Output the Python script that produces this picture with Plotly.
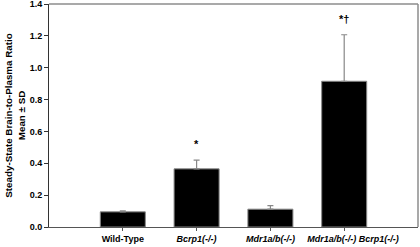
import plotly.graph_objects as go

categories = ["Wild-Type", "Bcrp1(-/-)", "Mdr1a/b(-/-)", "Mdr1a/b(-/-) Bcrp1(-/-)"]
tick_labels = ["<b>Wild-Type</b>", "<b><i>Bcrp1(-/-)</i></b>", "<b><i>Mdr1a/b(-/-)</i></b>",
               "<b>" + "\u00a0" * 7 + "<i>Mdr1a/b(-/-) Bcrp1(-/-)</i></b>"]
means = [0.095, 0.365, 0.112, 0.915]
sds = [0.007, 0.055, 0.022, 0.292]
sig_marks = ["", "*", "", "*†"]
y_ticks = [0, 0.2, 0.4, 0.6, 0.8, 1.0, 1.2, 1.4]

xpos = list(range(len(categories)))

fig = go.Figure()
fig.add_trace(go.Bar(
    x=xpos, y=means, width=0.61,
    marker=dict(color="black", line=dict(color="#888888", width=1)),
    error_y=dict(type="data", array=sds, symmetric=False, arrayminus=[0]*4,
                 color="#888888", thickness=1.2, width=3),
    showlegend=False,
))

for x, m, s, t in zip(xpos, means, sds, sig_marks):
    if t:
        fig.add_annotation(x=x, y=m + s + 0.1, text="<b>" + t + "</b>", showarrow=False,
                           font=dict(size=11, color="black", family="Liberation Sans, Arial"))

# gray top/right frame
fig.add_shape(type="line", xref="paper", yref="paper", x0=0, x1=1, y0=1, y1=1,
              line=dict(color="#8c8c8c", width=1.5))
fig.add_shape(type="line", xref="paper", yref="paper", x0=1, x1=1, y0=0, y1=1,
              line=dict(color="#8c8c8c", width=1.5))

fig.update_layout(
    width=420, height=247,
    margin=dict(l=49, r=2, t=4, b=20),
    plot_bgcolor="white", paper_bgcolor="white",
    font=dict(family="Liberation Sans, Arial", size=9, color="black"),
    xaxis=dict(range=[-1, 4], tickmode="array", tickvals=xpos, ticktext=tick_labels,
               tickangle=0, automargin=False,
               showgrid=False, zeroline=False, showline=True, linecolor="#555555", linewidth=1,
               ticks="outside", ticklen=3, tickcolor="#555555",
               tickfont=dict(size=9, color="black")),
    yaxis=dict(range=[0, 1.4], tickmode="array", tickvals=y_ticks,
               ticktext=["<b>%.1f</b>" % v for v in y_ticks], ticklabeloverflow="allow",
               automargin=False,
               showgrid=False, zeroline=False, showline=True, linecolor="#333333", linewidth=1,
               ticks="outside", ticklen=4, tickcolor="#333333",
               tickfont=dict(size=9, color="black"),
               title=dict(text="<b>Steady-State Brain-to-Plasma Ratio<br>Mean ± SD</b>",
                          font=dict(size=9.8, color="black"), standoff=2)),
)

fig.write_html("out.html", config={"displayModeBar": False},
               post_script="document.body.style.margin='0';")
